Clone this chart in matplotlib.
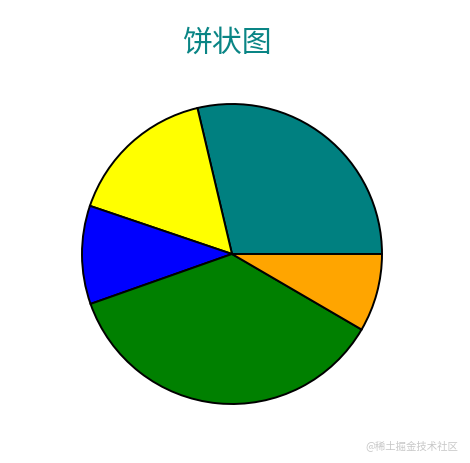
import matplotlib.pyplot as plt

# slice shares (counterclockwise from 3 o'clock)
sizes = [28.7, 16.1, 10.6, 36.2, 8.4]
colors = ['teal', 'yellow', 'blue', 'green', 'orange']

plt.rcParams['font.family'] = ['Noto Sans CJK SC', 'DejaVu Sans']

fig = plt.figure(figsize=(4.7, 4.64), dpi=100)
ax = fig.add_axes([82 / 470, 59 / 464, 300 / 470, 300 / 464])
ax.pie(sizes, colors=colors, startangle=0, counterclock=True,
       wedgeprops={'edgecolor': 'black', 'linewidth': 1.4})
ax.set_xlim(-1.0, 1.0)
ax.set_ylim(-1.0, 1.0)
ax.set_aspect('equal')
ax.axis('off')

fig.text(227 / 470, 1 - 43 / 464, '饼状图', color='#0a8585', fontsize=21.5,
         ha='center', va='center')
fig.text(458 / 470, 1 - 446 / 464, '@稀土掘金技术社区', color='#c8c8c8',
         fontsize=7.5, ha='right', va='center')

plt.savefig('out.png', dpi=100)
